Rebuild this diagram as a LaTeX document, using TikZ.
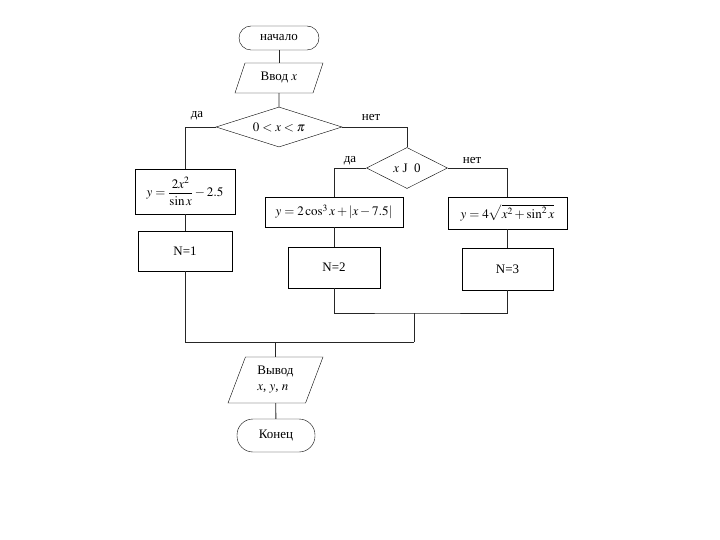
\documentclass[tikz,border=0pt]{standalone}
\usepackage{mathptmx}
\usepackage{fontspec}
\setmainfont{Liberation Serif}
\usetikzlibrary{shapes.geometric}

\begin{document}
\begin{tikzpicture}[x=1pt, y=-1pt, every node/.style={font=\fontsize{13}{16}\selectfont},
  term/.style={draw, rectangle, rounded corners=12pt, inner sep=0pt},
  io/.style={draw, trapezium, trapezium stretches body, inner xsep=0pt},
  cond/.style={draw, diamond, inner sep=0pt},
  proc/.style={draw, rectangle, inner sep=0pt},
  link/.style={draw=black!85, line width=0.9pt}]
\useasboundingbox (0,0) rectangle (720,540);
% top part
\node[term, minimum width=80pt, minimum height=24pt] (start) at (279,38) {начало};
\node[io, trapezium left angle=71, trapezium right angle=109, inner ysep=9pt, minimum width=88pt, minimum height=30pt] (input) at (279,78) {Ввод $x$};
\node[cond, aspect=3.15, minimum width=126pt, minimum height=40pt] (cond1) at (279,127) {$0<x<\pi$};
\node[cond, aspect=2, minimum width=81pt, minimum height=41pt] (cond2) at (407,168) {$x$~J~~0};
\node (yes1) at (197,116) {да};
\node (no1) at (371,118) {нет};
\node (yes2) at (350,161) {да};
\node (no2) at (472,161) {нет};
% branches
\node[proc, minimum width=100pt, minimum height=45pt] (calc1) at (185,191.5) {$y=\displaystyle\frac{2x^2}{\sin x}-2.5$};
\node[proc, minimum width=94pt, minimum height=40pt] (n1) at (185,251) {N=1};
\node[proc, minimum width=138pt, minimum height=30pt] (calc2) at (334,212) {$y=2\cos^3x+\left|x-7.5\right|$};
\node[proc, minimum width=92pt, minimum height=41pt] (n2) at (334,267.5) {N=2};
\node[proc, minimum width=119pt, minimum height=32pt] (calc3) at (507.5,213) {$y=4\sqrt{x^2+\sin^2x}$};
\node[proc, minimum width=91pt, minimum height=42pt] (n3) at (507.5,269) {N=3};
% bottom part
\coordinate (join2) at (414,313);
\coordinate (join1) at (414,342);
\node[io, trapezium left angle=68, trapezium right angle=112, inner ysep=8pt, minimum width=95pt, minimum height=46pt, align=left] (output) at (275.5,380) {Вывод\\$x$, $y$, $n$};
\node[term, rounded corners=16pt, minimum width=78pt, minimum height=33pt] (stop) at (276,435.5) {Конец};
\path[link] (start) -- (input);
\path[link] (input) -- (cond1);
\path[link] (cond1.west) -| (calc1.north);
\path[link] (calc1) -- (n1);
\path[link] (cond1.east) -| (cond2.north);
\path[link] (cond2.west) -| (calc2.north);
\path[link] (calc2) -- (n2);
\path[link] (cond2.east) -| (calc3.north);
\path[link] (calc3) -- (n3);
\path[link] (n2.south) |- (join2) -| (n3.south);
\path[link] (join2) -- (join1);
\path[link] (n1.south) |- (join1);
\path[link] (output.north |- join1) -- (output.north);
\path[link] (output) -- (stop);
\end{tikzpicture}
\end{document}
